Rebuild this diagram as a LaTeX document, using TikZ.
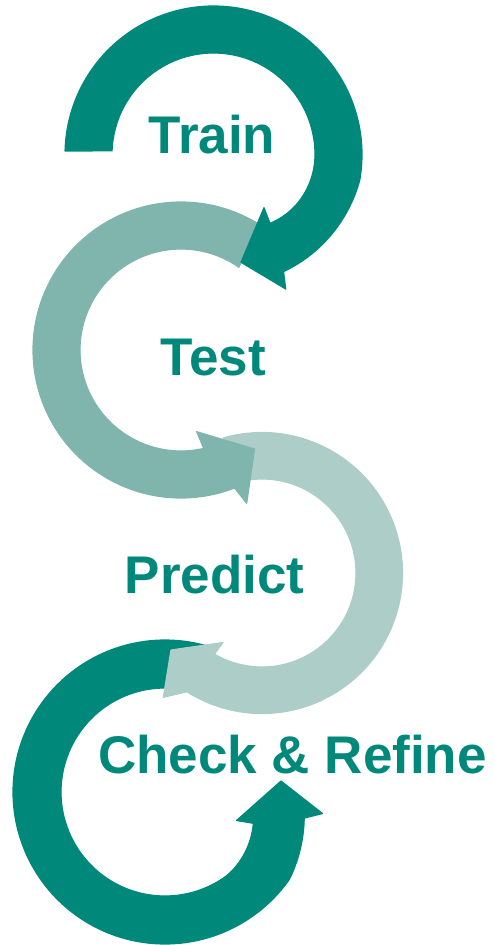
\documentclass[tikz,border=0pt]{standalone}
\usepackage{fontspec}
\setmainfont{Liberation Sans}
\definecolor{tealdark}{RGB}{0,137,123}
\definecolor{tealmid}{RGB}{128,181,174}
\definecolor{teallight}{RGB}{173,205,200}
\begin{document}
\begin{tikzpicture}[x=1pt,y=-1pt,
  ringarrow/.style={fill=#1, draw=#1, line width=1.2pt, line join=round},
  steptext/.style={font=\fontsize{53}{60}\selectfont\bfseries, text=tealdark,
    inner sep=0pt, anchor=base}]
\useasboundingbox (0,0) rectangle (493,945);

% arrowhead corners: outer wing, tip, inner wing
\coordinate (w1o) at (285.7,289);   \coordinate (t1) at (241,262.3);  \coordinate (w1i) at (264,207.7);
\coordinate (w2o) at (246.7,503.3); \coordinate (t2) at (254.5,449);  \coordinate (w2i) at (196.7,431.7);
\coordinate (w3o) at (163.3,697.3); \coordinate (t3) at (171,650);    \coordinate (w3i) at (223,642.5);
\coordinate (w4o) at (322.5,813.5); \coordinate (t4) at (281,781);    \coordinate (w4i) at (236.5,820.5);

% fourth loop (check & refine), bottom layer
\begin{scope}[shift={(165,792)}]
\fill[ringarrow=tealdark]
  plot[domain=0:1, samples=160] ({-72-277.5*\x}:{152-10.4*max(0,(277.5*\x-253)/24.5)})
  -- (w4o) -- (t4) -- (w4i)
  -- plot[domain=0:1, samples=160] ({-340.5+268.5*\x}:{104-10.3*max(0,1-7.5634*\x)*sqrt(max(0,1-7.5634*\x))})
  -- cycle;
\end{scope}

% third loop (predict)
\begin{scope}[shift={(262,573)}]
\fill[ringarrow=teallight]
  plot[domain=0:1, samples=160] ({-106+228.4*\x}:{140.5})
  -- (w3o) -- (t3) -- (w3i)
  -- plot[domain=0:1, samples=160] ({120.4-226.4*\x}:{94})
  -- cycle;
\end{scope}

% second loop (test)
\begin{scope}[shift={(181,350)}]
\fill[ringarrow=tealmid]
  plot[domain=0:1, samples=160] ({-58.5-232.8*\x}:{148})
  -- (w2o) -- (t2) -- (w2i)
  -- plot[domain=0:1, samples=160] ({-283+228.1*\x}:{101})
  -- cycle;
\end{scope}

% first loop (train), top layer
\begin{scope}[shift={(213.5,154.5)}]
\fill[ringarrow=tealdark]
  plot[domain=0:1, samples=160] ({181.35+237.85*\x}:{148.5-12.1*max(0,(237.85*\x-188.65)/49.2)})
  -- (w1o) -- (t1) -- (w1i)
  -- plot[domain=0:1, samples=160] ({410.6-228.62*\x}:{101.5-12.5*max(0,1-4.5182*\x)^2})
  -- cycle;
\end{scope}

\node[steptext] (train)   at (212,153)   {Train};
\node[steptext] (test)    at (213.5,375) {Test};
\node[steptext] (predict) at (214.5,593) {Predict};
\node[steptext] (refine)  at (292.5,773) {Check \& Refine};
\end{tikzpicture}
\end{document}
